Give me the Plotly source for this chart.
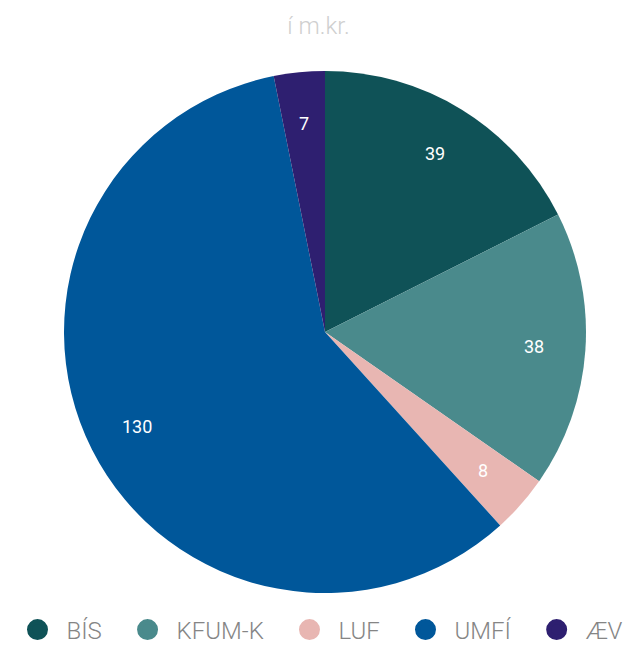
import math
import plotly.graph_objects as go

categories = ["BÍS", "KFUM-K", "LUF", "UMFÍ", "ÆV"]
values = [39, 38, 8, 130, 7]
colors = ["#0f5257", "#4a8a8c", "#e8b6b2", "#00579a", "#2e1f70"]
title_text = "í m.kr."

W, H = 637, 646
cx, cy, r = 325, 332, 261
label_r = 210

fig = go.Figure()
fig.add_trace(go.Pie(
    labels=categories, values=values, sort=False, direction="clockwise", rotation=0,
    marker=dict(colors=colors, line=dict(width=0)),
    textinfo="none",
    showlegend=False, hoverinfo="label+value",
    domain=dict(x=[(cx - r) / W, (cx + r) / W], y=[(H - cy - r) / H, (H - cy + r) / H]),
))
pad = "\u00a0\u00a0"
for i, (c, col) in enumerate(zip(categories, colors)):
    nm = c + (pad if i < len(categories) - 1 else "")
    fig.add_trace(go.Scatter(x=[None], y=[None], mode="markers", name=nm,
                             marker=dict(symbol="circle", size=16, color=col,
                                         line=dict(width=5, color=col))))

# value labels placed at the middle angle of each slice
total = sum(values)
cum = 0
annotations = []
for v in values:
    mid = (cum + v / 2) / total * 2 * math.pi
    cum += v
    px = cx + label_r * math.sin(mid)
    py = cy - label_r * math.cos(mid)
    annotations.append(dict(x=px / W, y=1 - py / H, xref="paper", yref="paper",
                            xanchor="center", yanchor="middle",
                            text=str(v), showarrow=False,
                            font=dict(family="Roboto", size=18, color="white")))

fig.update_layout(
    width=W, height=H, margin=dict(l=0, r=0, t=0, b=0, autoexpand=False),
    paper_bgcolor="white", plot_bgcolor="white",
    xaxis=dict(visible=False), yaxis=dict(visible=False),
    annotations=annotations,
    title=dict(text=title_text, x=0.5, xanchor="center", y=1 - 26 / H, yanchor="middle",
               font=dict(family="Roboto", size=24, color="#cfcfcf", weight=300)),
    legend=dict(orientation="h", x=0.5, xanchor="center", y=16 / H, yanchor="middle",
                font=dict(family="Roboto", size=24, color="#858585", weight=300),
                itemwidth=48, tracegroupgap=0),
)
fig.write_html("out.html")
